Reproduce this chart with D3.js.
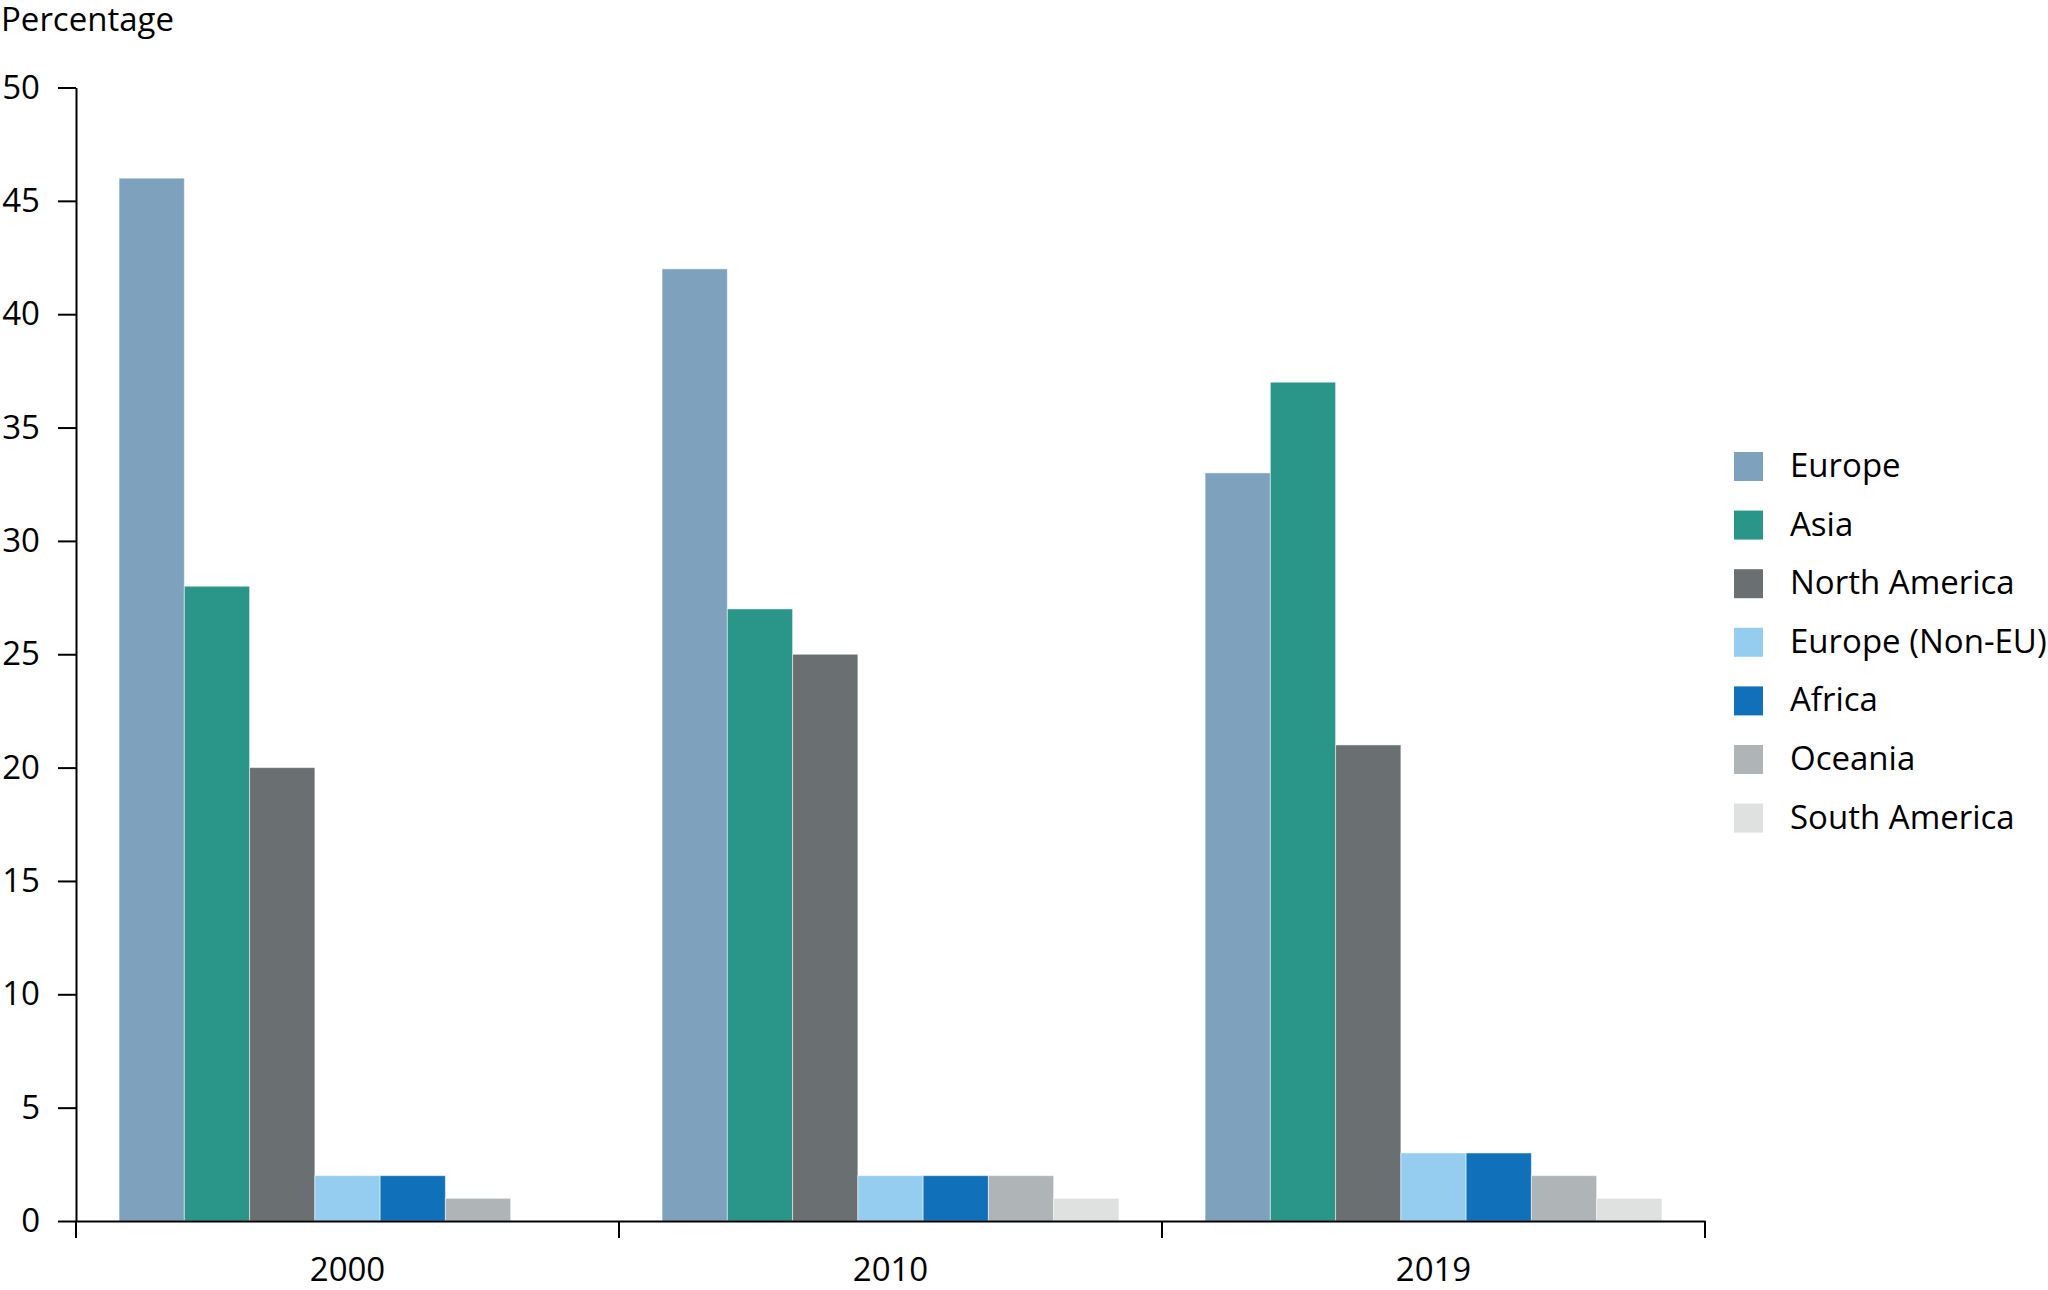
<!DOCTYPE html>
<html>
<head>
<meta charset="utf-8">
<script src="https://cdn.jsdelivr.net/npm/d3@7"></script>
<style>
  html, body { margin: 0; padding: 0; background: #fff; }
  svg { display: block; font-family: "Open Sans", "Noto Sans", sans-serif; }
</style>
</head>
<body>
<svg id="chart" width="2048" height="1290"></svg>
<script>
const years = ["2000", "2010", "2019"];
const regions = ["Europe", "Asia", "North America", "Europe (Non-EU)", "Africa", "Oceania", "South America"];
const colors = ["#7ea2bd", "#2a9689", "#6a6f72", "#94cdf0", "#1170ba", "#afb4b7", "#dfe1e1"];
const europe = [46, 42, 33];
const asia = [28, 27, 37];
const northAmerica = [20, 25, 21];
const europeNonEU = [2, 2, 3];
const africa = [2, 2, 3];
const oceania = [1, 2, 2];
const southAmerica = [0, 1, 1];
const yTicks = [0, 5, 10, 15, 20, 25, 30, 35, 40, 45, 50];

(function () {
const FS = 33;
const seriesValues = [europe, asia, northAmerica, europeNonEU, africa, oceania, southAmerica];
const data = years.map((yr, i) => ({
  year: yr,
  values: regions.map((r, j) => ({ region: r, value: seriesValues[j][i], color: colors[j] }))
}));

const svg = d3.select("#chart");
const mLeft = 76, mRight = 1705, mTop = 87.5, mBottom = 1221;

const x0 = d3.scaleBand().domain(years).range([mLeft, mRight]).paddingInner(0).paddingOuter(0);
const x1 = d3.scaleBand().domain(regions).range([0, x0.bandwidth()]).paddingInner(0).paddingOuter(0.66);
const y = d3.scaleLinear().domain([0, 50]).range([mBottom, mTop]);

// Bars
const groups = svg.append("g").selectAll("g").data(data).join("g")
  .attr("transform", d => `translate(${x0(d.year)},0)`);
groups.selectAll("rect").data(d => d.values).join("rect")
  .attr("x", d => x1(d.region))
  .attr("width", x1.bandwidth())
  .attr("y", d => y(d.value))
  .attr("height", d => y(0) - y(d.value))
  .attr("fill", d => d.color)
  .attr("stroke", "#ffffff")
  .attr("stroke-opacity", 0.5)
  .attr("stroke-width", 1);

// Y axis
const yAxis = svg.append("g").attr("transform", `translate(${mLeft},0)`)
  .call(d3.axisLeft(y).tickValues(yTicks).tickSize(18).tickSizeOuter(0).tickPadding(18));
yAxis.selectAll("text").attr("font-size", FS).attr("fill", "#000").attr("font-family", "'Open Sans', sans-serif");
yAxis.selectAll("line, path").attr("stroke", "#000").attr("stroke-width", 2);

// X axis
const xAxis = svg.append("g").attr("transform", `translate(0,${mBottom})`)
  .call(d3.axisBottom(x0).tickSize(0).tickSizeOuter(0).tickPadding(37));
xAxis.selectAll("text").attr("font-size", FS).attr("fill", "#000").attr("font-family", "'Open Sans', sans-serif");
xAxis.selectAll("path").attr("stroke", "#000").attr("stroke-width", 2);
const boundaries = years.map(yv => x0(yv)).concat([x0(years[years.length - 1]) + x0.bandwidth()]);
xAxis.selectAll("line.boundary").data(boundaries).join("line")
  .attr("class", "boundary")
  .attr("x1", d => d).attr("x2", d => d)
  .attr("y1", 0).attr("y2", 17)
  .attr("stroke", "#000").attr("stroke-width", 2);

// Y title
svg.append("text").attr("x", 1).attr("y", 31)
  .attr("font-size", FS).attr("fill", "#000")
  .text("Percentage");

// Legend
const legend = svg.append("g").attr("transform", "translate(1734,452)");
const items = legend.selectAll("g").data(regions).join("g")
  .attr("transform", (d, i) => `translate(0,${i * 58.6})`);
items.append("rect").attr("width", 29).attr("height", 29)
  .attr("fill", (d, i) => colors[i]);
items.append("text").attr("x", 56).attr("y", 25)
  .attr("font-size", FS).attr("fill", "#000")
  .text(d => d);
})();
</script>
</body>
</html>
